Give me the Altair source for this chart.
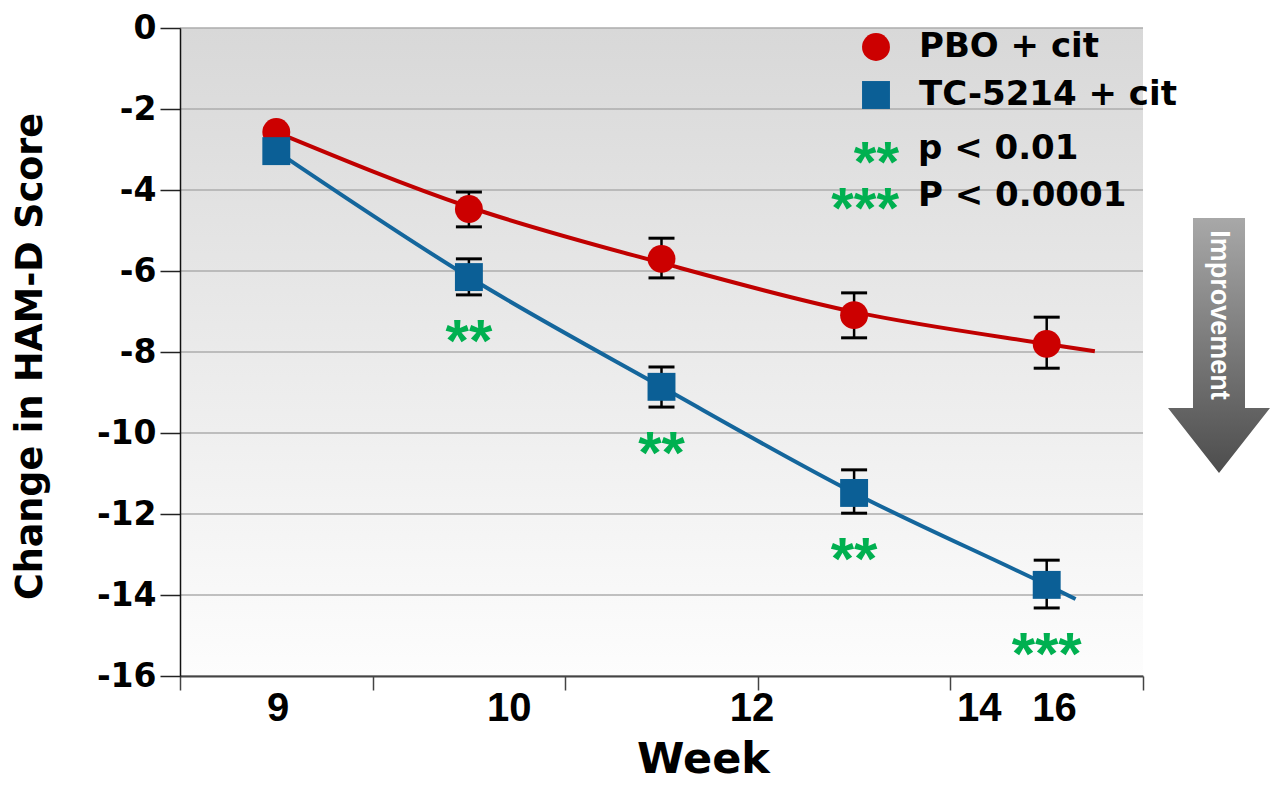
import altair as alt
import pandas as pd

# ---------------- data ----------------
weeks = ["9", "10", "12", "14", "16"]
series = ["PBO + cit", "TC-5214 + cit"]
pbo_mean = [-2.57, -4.47, -5.70, -7.09, -7.80]
pbo_low = [None, -4.91, -6.17, -7.65, -8.40]
pbo_high = [None, -4.05, -5.19, -6.54, -7.14]
tc_mean = [-3.04, -6.15, -8.86, -11.48, -13.75]
tc_low = [None, -6.59, -9.36, -11.98, -14.32]
tc_high = [None, -5.70, -8.37, -10.91, -13.14]
tc_sig = ["", "**", "**", "**", "***"]
# fitted trend lines (slot position, value)
pbo_trend_slot = [0.5, 1.5, 2.5, 3.5, 4.5, 4.75]
pbo_trend_value = [-2.57, -4.42, -5.80, -7.01, -7.80, -7.98]
tc_trend_slot = [0.5, 1.5, 2.5, 3.5, 4.5, 4.65]
tc_trend_value = [-3.04, -6.15, -8.86, -11.48, -13.75, -14.10]
# position of the week labels along the axis (slot units)
week_label_slot = [0.51, 1.71, 2.97, 4.15, 4.54]
y_ticks = [0, -2, -4, -6, -8, -10, -12, -14, -16]
x_ticks = [0, 1, 2, 3, 4, 5]
legend_sig_stars = ["**", "***"]
legend_sig_text = ["p < 0.01", "P < 0.0001"]
arrow_label = "Improvement"

# ---------------- styling ----------------
W, H = 963, 648
F = "DejaVu Sans"
FA = "Liberation Sans"
RED, RED_LINE = "#cc0000", "#c00000"
BLUE, BLUE_LINE = "#0b5f96", "#14669c"
GREEN = "#00b050"

rows = []
for i, w in enumerate(weeks):
    rows.append(dict(series=series[0], week=w, slot=i + 0.5, mean=pbo_mean[i],
                     low=pbo_low[i], high=pbo_high[i], sig=""))
    rows.append(dict(series=series[1], week=w, slot=i + 0.5, mean=tc_mean[i],
                     low=tc_low[i], high=tc_high[i], sig=tc_sig[i]))
df = pd.DataFrame(rows)
err = df.dropna(subset=["low"])
stars = df[(df["series"] == series[1]) & (df["sig"] != "")]

pbo_line = pd.DataFrame({"slot": pbo_trend_slot, "value": pbo_trend_value})
tc_line = pd.DataFrame({"slot": tc_trend_slot, "value": tc_trend_value})

xs = alt.Scale(domain=[0, 5], nice=False, zero=False)
ys = alt.Scale(domain=[-16, 0], nice=False, zero=False)

x_axis = alt.Axis(values=x_ticks, labels=False, grid=False, tickSize=14, tickColor="#444",
                  tickWidth=1.5, domainColor="#444", domainWidth=2,
                  title="Week", titleFont=F, titleFontSize=43, titleFontWeight="bold",
                  titleColor="black", titleX=523, titleY=96, titleAlign="center",
                  titleBaseline="alphabetic", zindex=1)
y_axis = alt.Axis(values=y_ticks, grid=False, tickSize=20, tickColor="#222", tickWidth=1.5,
                  domainColor="#111", domainWidth=1.5, labelFont=F, labelFontSize=33,
                  labelFontWeight="bold", labelColor="black", labelPadding=4, labelOverlap=False,
                  labelExpr="datum.value == 0 ? '0' : '-' + abs(datum.value)",
                  title="Change in HAM-D Score", titleFont=F, titleFontSize=36.5,
                  titleFontWeight="bold", titleColor="black", titleX=-150, titleY=H / 2 + 4,
                  titleAngle=270, titleAlign="center", titleBaseline="middle", zindex=1)


def X(f):
    return alt.X(f, type="quantitative", scale=xs, axis=x_axis)


def Y(f):
    return alt.Y(f, type="quantitative", scale=ys, axis=y_axis)


bg_grad = alt.Gradient(gradient="linear", x1=0, x2=0, y1=0, y2=1,
                       stops=[alt.GradientStop(color="#d8d8d8", offset=0),
                              alt.GradientStop(color="#fdfdfd", offset=1)])
arrow_grad = alt.Gradient(gradient="linear", x1=0, x2=0, y1=0, y2=1,
                          stops=[alt.GradientStop(color="#a8a8a8", offset=0),
                                 alt.GradientStop(color="#4d4d4d", offset=1)])

one = pd.DataFrame({"label": [arrow_label]})

background = alt.Chart(one).mark_rect(fill=bg_grad).encode(
    x=alt.X(datum=0, type="quantitative", scale=xs, axis=x_axis), x2=alt.X2(datum=5),
    y=alt.Y(datum=0, type="quantitative", scale=ys, axis=y_axis), y2=alt.Y2(datum=-16))

grid = alt.Chart(pd.DataFrame({"v": y_ticks})).mark_rule(color="#acacac", strokeWidth=1.5).encode(
    y=Y("v"), x=alt.X(datum=0, type="quantitative", scale=xs, axis=x_axis), x2=alt.X2(datum=5))

err_rule = alt.Chart(err).mark_rule(color="black", strokeWidth=2.5).encode(
    x=X("slot"), y=Y("low"), y2="high")
cap_low = alt.Chart(err).mark_rule(color="black", strokeWidth=3, xOffset=-13, x2Offset=13).encode(
    x=X("slot"), x2="slot", y=Y("low"))
cap_high = alt.Chart(err).mark_rule(color="black", strokeWidth=3, xOffset=-13, x2Offset=13).encode(
    x=X("slot"), x2="slot", y=Y("high"))

line_pbo = alt.Chart(pbo_line).mark_line(color=RED_LINE, strokeWidth=4, interpolate="monotone").encode(
    x=X("slot"), y=Y("value"))
line_tc = alt.Chart(tc_line).mark_line(color=BLUE_LINE, strokeWidth=4, interpolate="monotone").encode(
    x=X("slot"), y=Y("value"))

leg = alt.Legend(title=None, orient="none", legendX=679, legendY=2, labelFont=F,
                 labelFontSize=34, labelFontWeight="bold", labelColor="black", labelLimit=500,
                 symbolSize=780, labelOffset=26, rowPadding=14, padding=0, zindex=1,
                 symbolStrokeWidth=0, symbolOpacity=1)

points = alt.Chart(df).mark_point(filled=True, size=780, opacity=1, strokeWidth=0).encode(
    x=X("slot"), y=Y("mean"),
    color=alt.Color("series:N", scale=alt.Scale(domain=series, range=[RED, BLUE]), legend=leg),
    shape=alt.Shape("series:N", scale=alt.Scale(domain=series, range=["circle", "square"]), legend=leg))

star_marks = alt.Chart(stars).mark_text(font=FA, fontWeight="bold", fontSize=60, color=GREEN,
                                        baseline="alphabetic", align="center", dy=66).encode(
    x=X("slot"), y=Y("low"), text="sig")

xlabels = alt.Chart(pd.DataFrame({"label": weeks, "slot": week_label_slot})).mark_text(
    font=FA, fontWeight="bold", fontSize=40, color="black", baseline="alphabetic", align="center").encode(
    x=X("slot"), y=alt.value(H + 45), text="label")

sig_layers = []
for i, (s, t) in enumerate(zip(legend_sig_stars, legend_sig_text)):
    row = pd.DataFrame({"stars": [s], "text": [t]})
    sig_layers.append(alt.Chart(row).mark_text(
        font=FA, fontWeight="bold", fontSize=58, color=GREEN, align="right", baseline="alphabetic").encode(
        x=alt.value(719), y=alt.value(154 + 46 * i), text="stars"))
    sig_layers.append(alt.Chart(row).mark_text(
        font=F, fontWeight="bold", fontSize=34, color="black", align="left", baseline="alphabetic").encode(
        x=alt.value(738), y=alt.value(131 + 47 * i), text="text"))

ARROW = "M-0.204,-1L0.204,-1L0.204,0.49L0.40,0.49L0,1L-0.40,0.49L-0.204,0.49Z"
arrow = alt.Chart(one).mark_point(shape=ARROW, size=255 * 255, filled=True, fill=arrow_grad,
                                  strokeWidth=0, opacity=1).encode(
    x=alt.value(1039), y=alt.value(317.5))
arrow_text = alt.Chart(one).mark_text(angle=90, font=FA, fontWeight="bold", fontSize=27,
                                      color="white", align="center", baseline="middle").encode(
    x=alt.value(1039), y=alt.value(287), text="label")

chart = alt.layer(background, grid, err_rule, cap_low, cap_high, line_pbo, line_tc, points,
                  star_marks, xlabels, *sig_layers, arrow, arrow_text).properties(
    width=W, height=H,
    padding={"left": 172, "top": 20, "right": 127, "bottom": 106},
    autosize=alt.AutoSizeParams(type="none"),
    background="white",
).configure_view(stroke=None)

chart.save("out.html", embed_options={"renderer": "svg", "actions": False})
